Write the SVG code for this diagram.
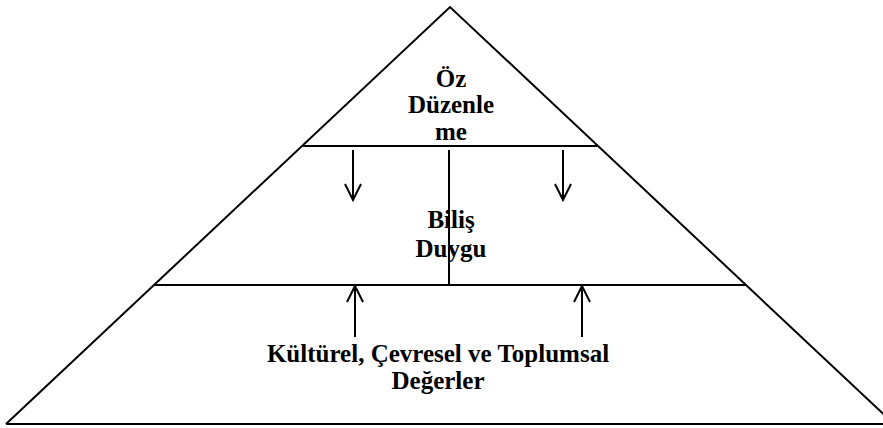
<svg xmlns="http://www.w3.org/2000/svg" width="883" height="428" viewBox="0 0 883 428">
<style>
.ln{stroke:#000;stroke-width:2;fill:none}
.t{font-family:"Liberation Serif","Times New Roman",serif;font-weight:bold;font-size:25px;fill:#000;text-anchor:middle}
</style>
<defs>
<marker id="ah" viewBox="0 0 20 20" refX="18" refY="10" markerWidth="20" markerHeight="20" markerUnits="userSpaceOnUse" orient="auto">
<path d="M2,2 L18,10 L2,18" stroke="#000" stroke-width="2" fill="none"/>
</marker>
</defs>
<rect width="883" height="428" fill="#fff"/>
<g id="pyramid">
<path class="ln" d="M6,424 L450,7 L894,424"/>
<line class="ln" x1="6" y1="424" x2="883" y2="424"/>
</g>
<g id="top">
<line class="ln" x1="303" y1="146" x2="597" y2="146"/>
<text class="t" x="451" y="87">Öz</text>
<text class="t" x="451" y="113">Düzenle</text>
<text class="t" x="451" y="140">me</text>
</g>
<g id="middle">
<line class="ln" x1="154" y1="285" x2="746" y2="285"/>
<text class="t" x="451" y="228">Biliş</text>
<text class="t" x="451" y="257">Duygu</text>
</g>
<g id="bottom">
<text class="t" x="438" y="362">Kültürel, Çevresel ve Toplumsal</text>
<text class="t" x="438" y="389">Değerler</text>
</g>
<g id="connectors">
<line class="ln" x1="449" y1="150" x2="449" y2="284"/>
<line class="ln" x1="353" y1="150" x2="353" y2="200" marker-end="url(#ah)"/>
<line class="ln" x1="563" y1="150" x2="563" y2="200" marker-end="url(#ah)"/>
<line class="ln" x1="355" y1="337" x2="355" y2="286" marker-end="url(#ah)"/>
<line class="ln" x1="582" y1="337" x2="582" y2="286" marker-end="url(#ah)"/>
</g>
</svg>
